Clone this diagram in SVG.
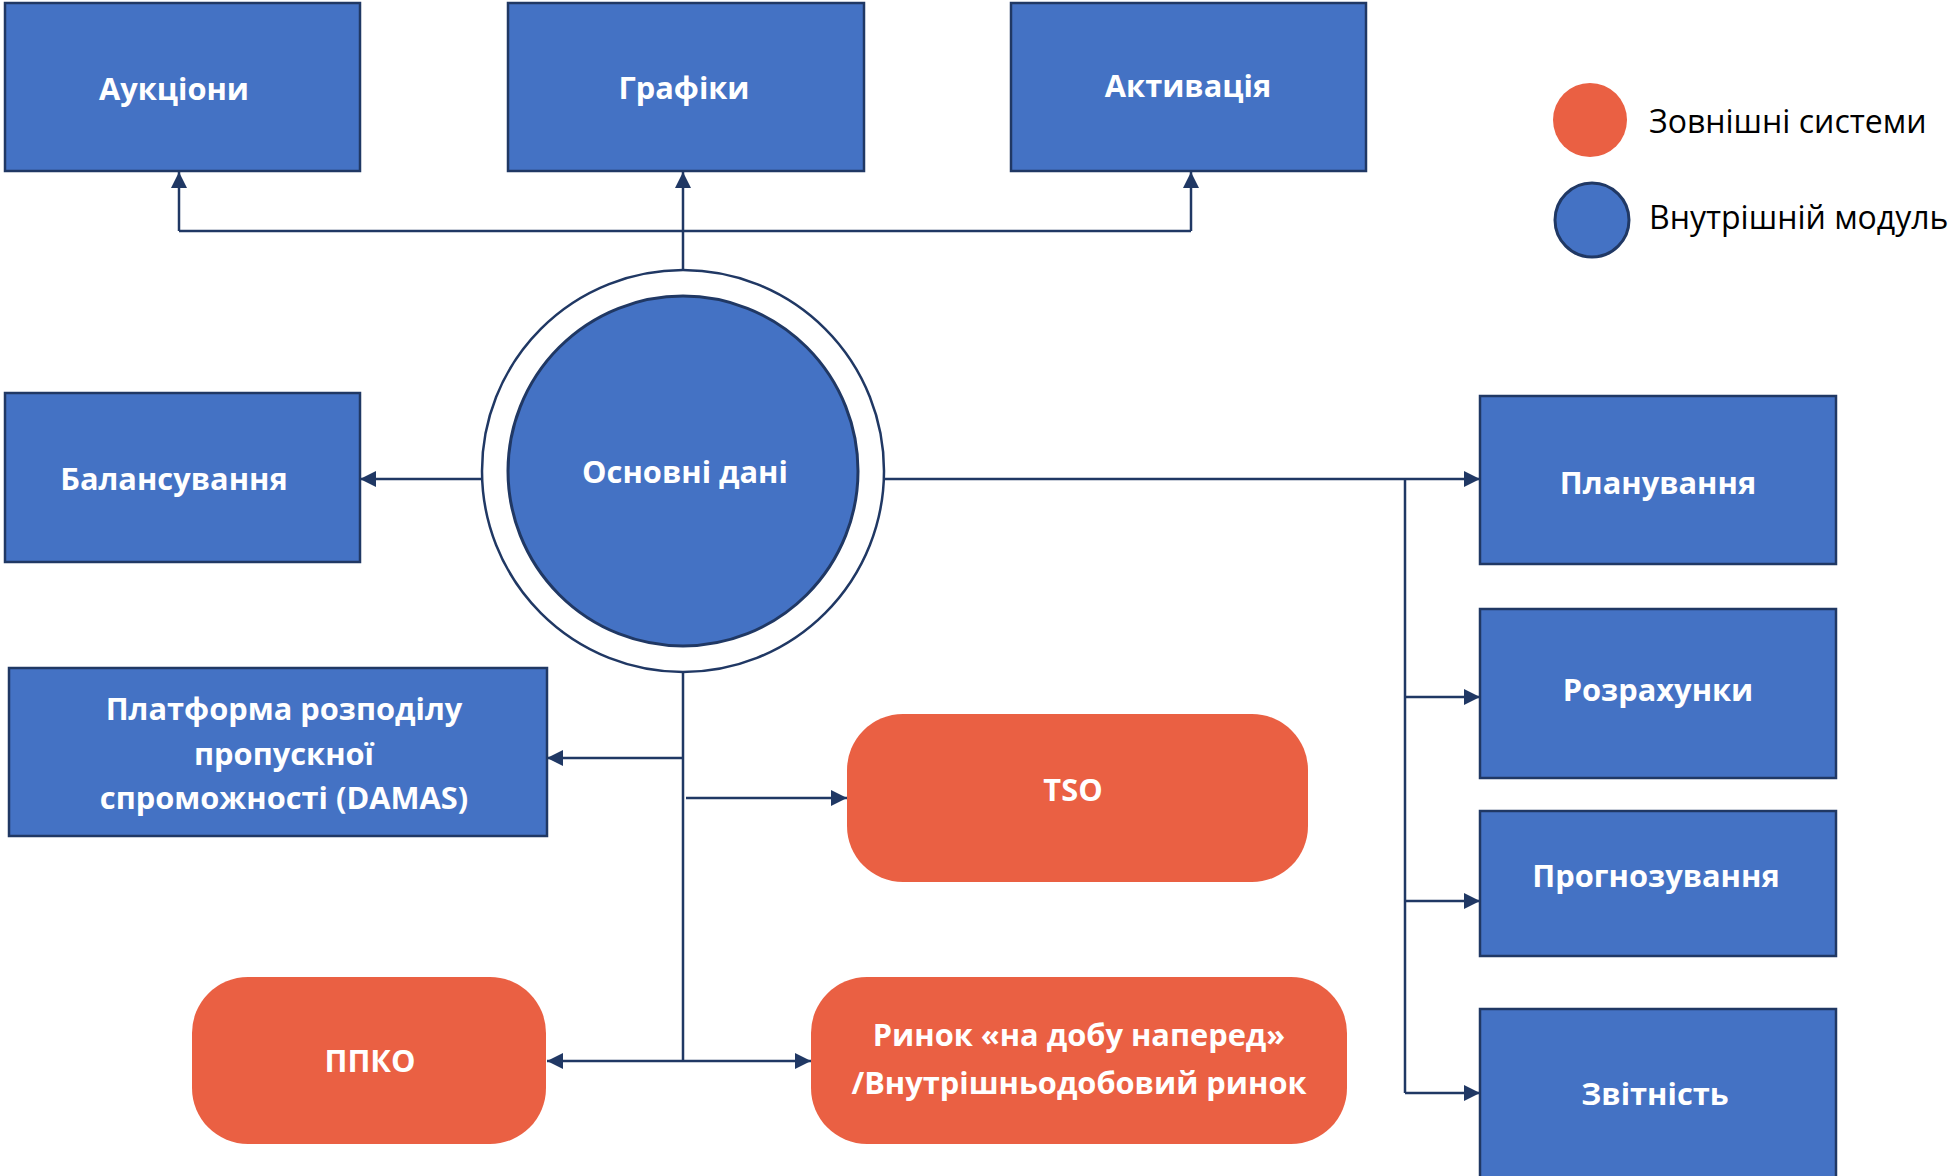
<svg xmlns="http://www.w3.org/2000/svg" width="1954" height="1176" viewBox="0 0 1954 1176">
  <defs>
    <marker id="arr" markerUnits="userSpaceOnUse" markerWidth="16" markerHeight="16" refX="16" refY="8" orient="auto-start-reverse">
      <path d="M0,0 L16,8 L0,16 z" fill="#203864"/>
    </marker>
    <style>
      .box { fill: #4472C4; stroke: #203864; stroke-width: 2.5; }
      .ext { fill: #EA6043; }
      .lbl { font-family: "Open Sans", "Noto Sans", "DejaVu Sans", sans-serif; font-weight: bold; font-size: 30.8px; fill: #ffffff; text-anchor: middle; }
      .leg { font-family: "Open Sans", "Noto Sans", "DejaVu Sans", sans-serif; font-size: 32px; fill: #000000; }
      .con { fill: none; stroke: #203864; stroke-width: 2.5; }
      .arrow { marker-end: url(#arr); }
    </style>
  </defs>
  <rect x="0" y="0" width="1954" height="1176" fill="#ffffff"/>

  <g id="connectors">
    <path class="con arrow" d="M683,270 V172"/>
    <path class="con" d="M179,231 H1191"/>
    <path class="con arrow" d="M179,231 V172"/>
    <path class="con arrow" d="M1191,231 V172"/>
    <path class="con arrow" d="M482,479 H360"/>
    <path class="con arrow" d="M884,479 H1480"/>
    <path class="con" d="M1405,479 V1093"/>
    <path class="con arrow" d="M1405,697 H1480"/>
    <path class="con arrow" d="M1405,901 H1480"/>
    <path class="con arrow" d="M1405,1093 H1480"/>
    <path class="con" d="M683,672 V1062"/>
    <path class="con arrow" d="M683,758 H547"/>
    <path class="con arrow" d="M686,798 H847"/>
    <path class="con arrow" d="M547,1061 H811" marker-start="url(#arr)"/>
  </g>

  <g id="auctions">
    <rect class="box" x="5" y="3" width="355" height="168"/>
    <text class="lbl" x="174" y="100">Аукціони</text>
  </g>
  <g id="schedules">
    <rect class="box" x="508" y="3" width="356" height="168"/>
    <text class="lbl" x="684" y="99">Графіки</text>
  </g>
  <g id="activation">
    <rect class="box" x="1011" y="3" width="355" height="168"/>
    <text class="lbl" x="1188" y="97">Активація</text>
  </g>

  <g id="master-data">
    <circle cx="683" cy="471" r="201" fill="#ffffff" stroke="#203864" stroke-width="2.5"/>
    <circle cx="683" cy="471" r="175" fill="#4472C4" stroke="#203864" stroke-width="3"/>
    <text class="lbl" x="685" y="483">Основні дані</text>
  </g>

  <g id="balancing">
    <rect class="box" x="5" y="393" width="355" height="169"/>
    <text class="lbl" x="174" y="490">Балансування</text>
  </g>

  <g id="damas">
    <rect class="box" x="9" y="668" width="538" height="168"/>
    <text class="lbl" x="284" y="720">Платформа розподілу</text>
    <text class="lbl" x="284" y="765">пропускної</text>
    <text class="lbl" x="284" y="809">спроможності (DAMAS)</text>
  </g>

  <g id="tso">
    <rect class="ext" x="847" y="714" width="461" height="168" rx="56" ry="56"/>
    <text class="lbl" x="1073" y="801">TSO</text>
  </g>

  <g id="ppko">
    <rect class="ext" x="192" y="977" width="354" height="167" rx="56" ry="56"/>
    <text class="lbl" x="370" y="1072">ППКО</text>
  </g>

  <g id="market">
    <rect class="ext" x="811" y="977" width="536" height="167" rx="56" ry="56"/>
    <text class="lbl" x="1079" y="1046">Ринок «на добу наперед»</text>
    <text class="lbl" x="1079" y="1094">/Внутрішньодобовий ринок</text>
  </g>

  <g id="planning">
    <rect class="box" x="1480" y="396" width="356" height="168"/>
    <text class="lbl" x="1658" y="494">Планування</text>
  </g>
  <g id="settlements">
    <rect class="box" x="1480" y="609" width="356" height="169"/>
    <text class="lbl" x="1658" y="701">Розрахунки</text>
  </g>
  <g id="forecasting">
    <rect class="box" x="1480" y="811" width="356" height="145"/>
    <text class="lbl" x="1656" y="887">Прогнозування</text>
  </g>
  <g id="reporting">
    <rect class="box" x="1480" y="1009" width="356" height="180"/>
    <text class="lbl" x="1655" y="1105">Звітність</text>
  </g>

  <g id="legend">
    <circle cx="1590" cy="120" r="37" fill="#EA6043"/>
    <text class="leg" x="1649" y="133">Зовнішні системи</text>
    <circle cx="1592" cy="220" r="37" fill="#4472C4" stroke="#203864" stroke-width="3"/>
    <text class="leg" x="1649" y="229">Внутрішній модуль</text>
  </g>
</svg>
